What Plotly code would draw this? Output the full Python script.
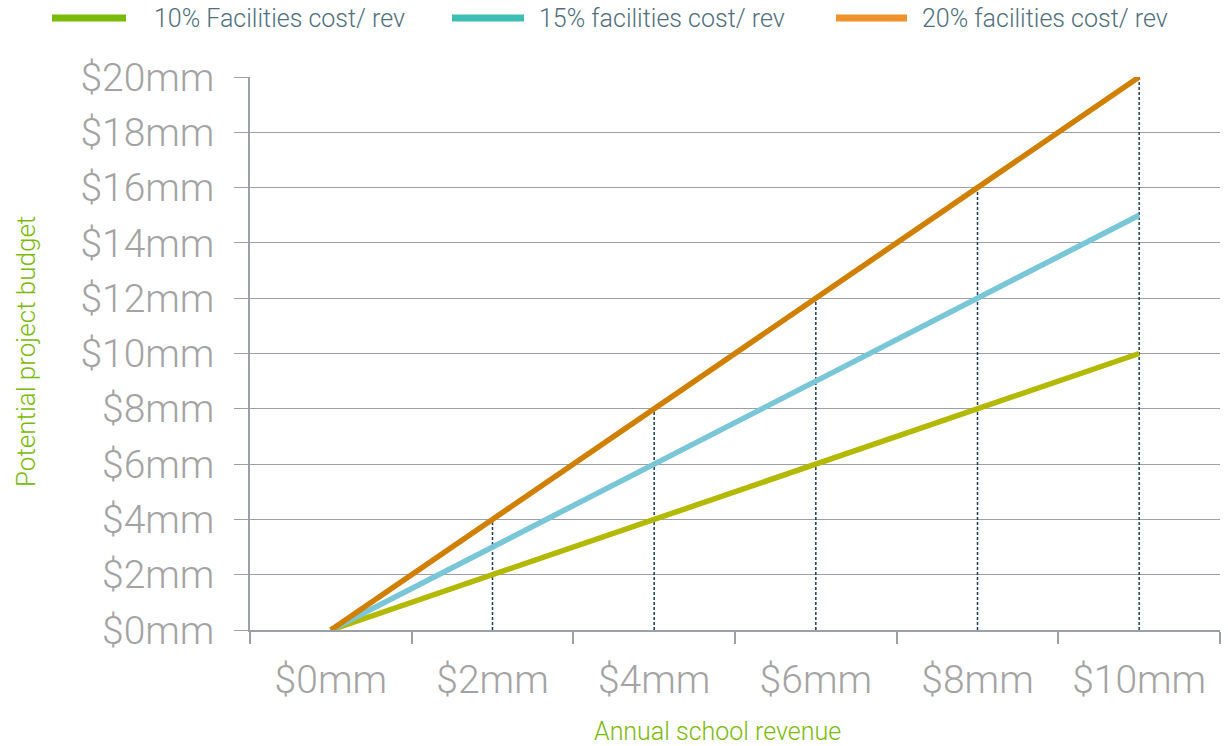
import plotly.graph_objects as go

# Revenue categories and project budgets at each facilities-cost share
categories = ["$0mm", "$2mm", "$4mm", "$6mm", "$8mm", "$10mm"]
budget_10 = [0, 2, 4, 6, 8, 10]
budget_15 = [0, 3, 6, 9, 12, 15]
budget_20 = [0, 4, 8, 12, 16, 20]

series_names = ["10% Facilities cost/ rev", "15% facilities cost/ rev", "20% facilities cost/ rev"]
line_colors = ["#b3b800", "#78c6d6", "#d08000"]
legend_colors = ["#7aba0a", "#3cbfb2", "#f0922a"]

W, H = 1228, 746
L, R, T, B = 250, 8, 77, 116
plot_w = W - L - R
plot_h = H - T - B


def px_x(px):
    return (px - L) / plot_w


def px_y(py):
    return (H - B - py) / plot_h


FONT = "Roboto"
GREY = "#a3a3a3"
AXIS = "#9aa0a6"
GREEN = "#7aba0a"

fig = go.Figure()

# Dashed drop lines from the top series down to the axis
drop_x, drop_y = [], []
for c, v in zip(categories, budget_20):
    if v > 0:
        drop_x += [c, c, None]
        drop_y += [0, v, None]
fig.add_trace(go.Scatter(
    x=drop_x, y=drop_y, mode="lines", showlegend=False, hoverinfo="skip",
    line=dict(color="#173f55", width=1.5, dash="3px,2px"),
))

for name, vals, col in zip(series_names, [budget_10, budget_15, budget_20], line_colors):
    fig.add_trace(go.Scatter(
        x=categories, y=vals, mode="lines", name=name, showlegend=False,
        line=dict(color=col, width=5.5),
    ))

# Custom legend along the top
legend_lines = [(52, 126), (452, 524), (836, 907)]
legend_text_x = [152, 537, 920]
legend_y = 18
shapes = []
annotations = []
for (x0, x1), tx, name, col in zip(legend_lines, legend_text_x, series_names, legend_colors):
    shapes.append(dict(type="line", xref="paper", yref="paper",
                       x0=px_x(x0), x1=px_x(x1), y0=px_y(legend_y), y1=px_y(legend_y),
                       line=dict(color=col, width=7)))
    annotations.append(dict(xref="paper", yref="paper", x=px_x(tx), y=px_y(legend_y),
                            xanchor="left", yanchor="middle", showarrow=False, text=name,
                            font=dict(family=FONT, size=25, color="#4f6f7d", weight=300)))

# Axis titles
annotations.append(dict(xref="paper", yref="paper", x=px_x(717), y=px_y(731),
                        xanchor="center", yanchor="middle", showarrow=False,
                        text="Annual school revenue",
                        font=dict(family=FONT, size=25, color=GREEN, weight=300)))
annotations.append(dict(xref="paper", yref="paper", x=px_x(26), y=px_y(352),
                        xanchor="center", yanchor="middle", showarrow=False, textangle=-90,
                        text="Potential project budget",
                        font=dict(family=FONT, size=26, color=GREEN, weight=300)))

fig.update_layout(
    width=W, height=H,
    margin=dict(l=L, r=R, t=T, b=B),
    paper_bgcolor="white", plot_bgcolor="white",
    font=dict(family=FONT, weight=300),
    shapes=shapes, annotations=annotations,
    showlegend=False,
    xaxis=dict(
        type="category", categoryorder="array", categoryarray=categories,
        range=[-0.5, len(categories) - 0.5],
        showgrid=False, zeroline=False,
        showline=True, linecolor=AXIS, linewidth=1.5,
        ticks="outside", tickson="boundaries", ticklen=12, tickcolor=AXIS, tickwidth=1.5,
        tickfont=dict(family=FONT, size=39, color=GREY, weight=300),
        ticklabelstandoff=14,
    ),
    yaxis=dict(
        range=[0, 20], dtick=2, tick0=0,
        tickprefix="$", ticksuffix="mm",
        showgrid=True, gridcolor=AXIS, gridwidth=1.3, zeroline=False,
        showline=True, linecolor=AXIS, linewidth=1.5,
        ticks="outside", ticklen=14, tickcolor=AXIS, tickwidth=1.3,
        tickfont=dict(family=FONT, size=39, color=GREY, weight=300),
        ticklabelstandoff=12,
    ),
)

fig.write_html("out.html")
